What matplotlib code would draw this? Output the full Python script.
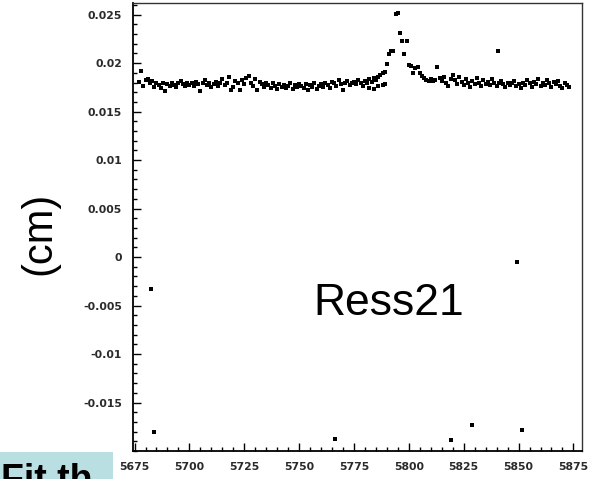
import numpy as np
import matplotlib
matplotlib.use("Agg")
import matplotlib.pyplot as plt
from matplotlib.ticker import MultipleLocator, FixedLocator, FixedFormatter

# residuals per channel, one entry per x starting at 5677
x_start = 5677
res_band = [
    0.0181, 0.0192, 0.0176, 0.0183, 0.0184, 0.0179, 0.0182, 0.0175, 0.0180, 0.0177,
    0.0174, 0.0179, 0.0171, 0.0178, 0.0176, 0.0180, 0.0177, 0.0175, 0.0179, 0.0182,
    0.0178, 0.0176, 0.0180, 0.0177,
    0.0179, 0.0176, 0.0181, 0.0178, 0.0171, 0.0180, 0.0183, 0.0177, 0.0179, 0.0175,
    0.0178, 0.0181, 0.0176, 0.0179, 0.0184, 0.0177, 0.0180, 0.0186, 0.0172, 0.0175,
    0.0182, 0.0179, 0.0172, 0.0183, 0.0178,
    0.0185, 0.0187, 0.0179, 0.0176, 0.0184, 0.0172, 0.0181, 0.0178, 0.0175, 0.0180,
    0.0177, 0.0174, 0.0179, 0.0176, 0.0173, 0.0178, 0.0175, 0.0177, 0.0174, 0.0176,
    0.0179, 0.0173, 0.0177, 0.0175, 0.0178,
    0.0176, 0.0174, 0.0178, 0.0172, 0.0177, 0.0175, 0.0179, 0.0173, 0.0176, 0.0178,
    0.0175, 0.0180, 0.0177, 0.0174, 0.0181, 0.0179, 0.0176, 0.0183, 0.0178, 0.0172,
    0.0180, 0.0182, 0.0177, 0.0179, 0.0181, 0.0178, 0.0183, 0.0180, 0.0176, 0.0182,
    0.0179, 0.0184, 0.0181, 0.0185, 0.0183,
    0.0186, 0.0188, 0.0190, 0.0191, 0.0199, 0.0209, 0.0212, 0.0213, 0.0251, 0.0252,
    0.0231, 0.0223, 0.0209, 0.0223, 0.0198, 0.0197, 0.0190, 0.0195, 0.0196, 0.0190,
    0.0187, 0.0185, 0.0183, 0.0182, 0.0184, 0.0182, 0.0183, 0.0196, 0.0185, 0.0182,
    0.0186, 0.0180, 0.0176, 0.0184, 0.0188,
    0.0183, 0.0178, 0.0186, 0.0181, 0.0177, 0.0184, 0.0179, 0.0175, 0.0182, 0.0178,
    0.0185, 0.0180, 0.0176, 0.0183, 0.0178, 0.0181, 0.0177, 0.0184, 0.0179, 0.0176,
    0.0180, 0.0182, 0.0178, 0.0175, 0.0180, 0.0177, 0.0179, 0.0182, 0.0176, 0.0178,
    0.0174, 0.0180, 0.0177, 0.0183, 0.0179, 0.0175, 0.0181, 0.0178, 0.0184, 0.0176,
    0.0180, 0.0177, 0.0183, 0.0179, 0.0175, 0.0181, 0.0178, 0.0182, 0.0176, 0.0174,
    0.0179, 0.0177, 0.0175,
]

# second branch just before the peak
x_lower = [5782, 5784, 5786, 5788, 5789]
res_lower = [0.0174, 0.0173, 0.0176, 0.0177, 0.0178]

# isolated points
x_out = [5840.5, 5682.6, 5683.8, 5766.3, 5819.0, 5828.8, 5851.6, 5849.3]
res_out = [0.0212, -0.0033, -0.01805, -0.01877, -0.01888, -0.01737, -0.01781, -0.0005]

xticks = [5675, 5700, 5725, 5750, 5775, 5800, 5825, 5850, 5875]
yticks = [-0.015, -0.01, -0.005, 0, 0.005, 0.01, 0.015, 0.02, 0.025]
ytick_labels = ["-0.015", "-0.01", "-0.005", "0", "0.005", "0.01", "0.015", "0.02", "0.025"]

fig = plt.figure(figsize=(5.9, 4.79), dpi=100)
ax = fig.add_axes([133 / 590, 28 / 479, 449 / 590, 448 / 479])

x_band = np.arange(x_start, x_start + len(res_band))
ms = 3.5
ax.plot(x_band, res_band, 's', color='black', ms=ms, mew=0)
ax.plot(x_lower, res_lower, 's', color='black', ms=ms, mew=0)
ax.plot(x_out, res_out, 's', color='black', ms=ms, mew=0)

ax.set_xlim(5674.3, 5878.9)
ax.set_ylim(-0.0200, 0.0262)

ax.xaxis.set_major_locator(FixedLocator(xticks))
ax.xaxis.set_minor_locator(MultipleLocator(5))
ax.yaxis.set_major_locator(FixedLocator(yticks))
ax.yaxis.set_major_formatter(FixedFormatter(ytick_labels))
ax.yaxis.set_minor_locator(MultipleLocator(0.001))

ax.tick_params(which='both', direction='in', top=False, right=False, width=1.0, color='black')
ax.tick_params(which='major', length=5.5)
ax.tick_params(which='minor', length=3)
ax.tick_params(axis='y', which='major', pad=8)
ax.tick_params(axis='x', which='major', pad=8)
for lab in ax.get_xticklabels() + ax.get_yticklabels():
    lab.set_fontfamily('DejaVu Sans')
    lab.set_fontweight('bold')
    lab.set_fontsize(7.8)
    lab.set_color('#2a2a2a')

for side in ['left', 'bottom']:
    ax.spines[side].set_linewidth(1.3)
for side in ['top', 'right']:
    ax.spines[side].set_linewidth(1.0)
    ax.spines[side].set_color('#333333')

fig.text(39 / 590, 1 - 233 / 479, "(cm)", rotation=90, ha='center', va='center',
         fontsize=30, family='Liberation Sans')
fig.text(313 / 590, 1 - 315 / 479, "Ress21", ha='left', va='baseline',
         fontsize=32, family='Liberation Sans')

# caption strip at the lower left, its text runs off the bottom edge
fig.patches.append(plt.Rectangle((0, 0), 113 / 590, 27 / 479, transform=fig.transFigure,
                                 facecolor='#b9dfe3', edgecolor='none', zorder=0))
fig.text(1 / 590, 1 - 463 / 479, "Fit th", ha='left', va='top',
         fontsize=27, fontweight='bold', family='Liberation Sans')

fig.savefig("out.png", dpi=100)
